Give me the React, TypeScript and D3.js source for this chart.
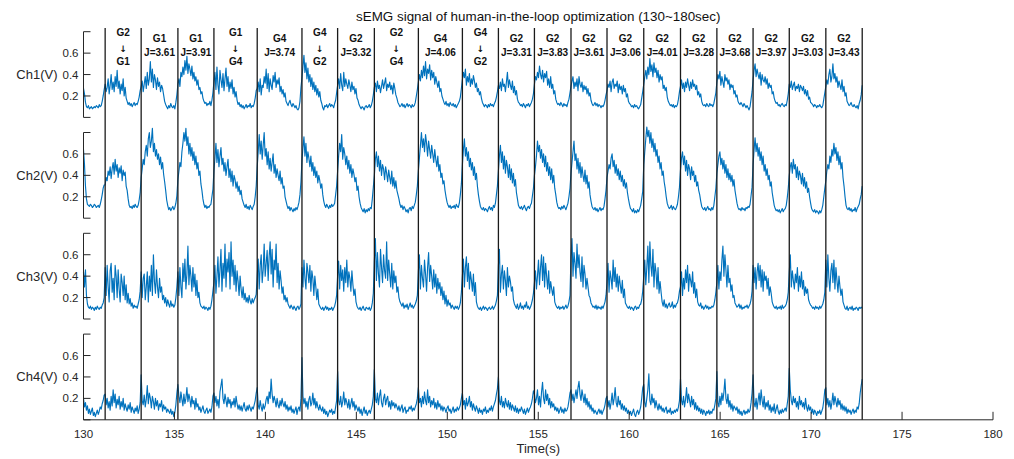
import React from "react";
import * as d3 from "d3";

const titleText = "sEMG signal of human-in-the-loop optimization (130~180sec)";
const xLabelText = "Time(s)";
const xTicks = [130, 135, 140, 145, 150, 155, 160, 165, 170, 175, 180];
const yTicks = [0, 0.2, 0.4, 0.6, 0.8];
const yTickLabels = ["", "0.2", "0.4", "0.6", ""];
const channelNames = ["Ch1(V)", "Ch2(V)", "Ch3(V)", "Ch4(V)"];

const signalStart = 130;
const boundaries = [131.19, 133.17, 135.19, 137.17, 139.55, 142.01, 143.97, 145.99, 148.41, 150.83, 152.81, 154.79, 156.8, 158.78, 160.8, 162.82, 164.82, 166.81, 168.8, 170.81, 172.81];
const labelTop = ["G2", "G1", "G1", "G1", "G4", "G4", "G2", "G2", "G4", "G4", "G2", "G2", "G2", "G2", "G2", "G2", "G2", "G2", "G2", "G2"];
const labelBottom = ["G1", "J=3.61", "J=3.91", "G4", "J=3.74", "G2", "J=3.32", "G4", "J=4.06", "G2", "J=3.31", "J=3.83", "J=3.61", "J=3.06", "J=4.01", "J=3.28", "J=3.68", "J=3.97", "J=3.03", "J=3.43"];

// values in hundredths of a volt; first list = before the first line, then one list per cycle, last = end value
const ch1 = [
  [27, 22, 14, 10, 9, 11, 8, 9, 10, 8, 9, 10, 9, 11, 10, 9, 12, 10, 11, 15, 20, 26],
  [31, 24, 28, 36, 22, 30, 40, 26, 33, 24, 38, 29, 44, 27, 34, 22, 31, 25, 36, 20, 28, 18, 15, 12, 14, 11, 13, 10, 12, 14, 11, 13, 12, 15, 19, 25],
  [29, 34, 24, 31, 38, 27, 42, 30, 36, 52, 33, 45, 28, 40, 35, 26, 37, 29, 33, 24, 30, 27, 21, 15, 12, 10, 8, 11, 9, 13, 10, 9, 11, 8, 14, 21],
  [31, 36, 29, 42, 38, 47, 40, 53, 44, 57, 41, 50, 45, 39, 48, 36, 42, 34, 38, 30, 35, 26, 28, 22, 24, 18, 15, 13, 14, 11, 13, 12, 15, 11, 16, 23],
  [33, 42, 26, 47, 30, 22, 44, 35, 28, 41, 25, 36, 46, 29, 38, 24, 33, 27, 35, 22, 28, 19, 24, 16, 12, 14, 10, 12, 9, 11, 8, 10, 12, 9, 11, 10, 13, 9, 11, 10, 13, 18, 25],
  [27, 33, 24, 36, 21, 30, 28, 38, 32, 45, 27, 41, 24, 36, 30, 26, 39, 33, 42, 28, 35, 31, 37, 24, 29, 22, 26, 19, 23, 15, 13, 11, 14, 16, 12, 10, 13, 11, 9, 11, 8, 7, 9, 15, 28],
  [37, 48, 58, 42, 51, 36, 46, 33, 40, 29, 37, 26, 33, 24, 30, 21, 27, 19, 24, 16, 13, 9, 7, 11, 10, 12, 9, 11, 13, 10, 12, 11, 9, 13, 16, 23],
  [30, 36, 27, 41, 30, 25, 42, 29, 36, 31, 27, 35, 30, 24, 33, 26, 29, 22, 27, 18, 16, 12, 10, 8, 10, 9, 7, 10, 11, 9, 10, 12, 9, 11, 15, 21],
  [28, 32, 24, 34, 27, 30, 23, 29, 35, 27, 32, 37, 25, 31, 28, 33, 26, 30, 22, 32, 27, 21, 18, 14, 12, 10, 11, 13, 10, 12, 9, 11, 13, 10, 12, 11, 9, 12, 10, 11, 14, 20, 26],
  [33, 40, 34, 44, 37, 48, 39, 52, 36, 45, 41, 49, 35, 44, 37, 42, 31, 38, 33, 28, 34, 24, 27, 20, 17, 14, 12, 15, 11, 13, 10, 14, 12, 11, 13, 10, 12, 9, 11, 13, 15, 19, 27],
  [35, 42, 37, 45, 30, 38, 33, 41, 29, 36, 31, 39, 34, 28, 32, 24, 27, 21, 24, 18, 14, 12, 10, 12, 11, 9, 12, 10, 13, 11, 12, 10, 13, 15, 19, 24],
  [30, 27, 33, 25, 36, 29, 31, 24, 33, 42, 28, 35, 30, 26, 34, 23, 29, 21, 25, 17, 14, 13, 11, 12, 10, 13, 11, 9, 12, 11, 13, 10, 12, 14, 17, 22],
  [31, 38, 35, 42, 37, 48, 40, 36, 44, 33, 41, 37, 43, 30, 36, 28, 38, 27, 31, 22, 25, 17, 14, 12, 13, 11, 14, 12, 10, 13, 11, 12, 10, 14, 17, 23],
  [29, 34, 38, 27, 33, 29, 36, 25, 38, 31, 28, 33, 24, 30, 26, 29, 22, 27, 20, 23, 16, 13, 11, 12, 14, 11, 13, 10, 12, 11, 9, 11, 10, 12, 16, 21],
  [25, 31, 28, 34, 24, 33, 36, 27, 31, 29, 34, 23, 31, 26, 29, 22, 30, 24, 27, 19, 22, 15, 13, 12, 10, 11, 9, 12, 10, 11, 9, 8, 10, 12, 18, 24],
  [31, 38, 44, 36, 47, 40, 55, 43, 49, 38, 51, 42, 46, 37, 44, 33, 40, 35, 38, 27, 30, 25, 28, 19, 15, 13, 11, 12, 10, 12, 9, 11, 10, 12, 17, 24],
  [29, 35, 27, 32, 24, 33, 28, 36, 30, 25, 33, 27, 35, 29, 31, 26, 30, 21, 24, 19, 22, 15, 12, 11, 12, 10, 13, 11, 10, 13, 11, 12, 10, 13, 18, 23],
  [33, 40, 36, 43, 30, 38, 33, 28, 40, 34, 37, 31, 35, 26, 31, 28, 30, 22, 25, 19, 21, 15, 13, 12, 14, 12, 10, 13, 11, 9, 11, 9, 7, 10, 17, 24],
  [35, 44, 50, 38, 45, 40, 36, 42, 30, 40, 35, 33, 38, 31, 36, 27, 32, 28, 30, 22, 24, 18, 15, 13, 14, 11, 12, 10, 12, 13, 11, 10, 12, 11, 16, 22],
  [31, 28, 34, 26, 30, 33, 25, 29, 27, 31, 24, 30, 28, 25, 29, 22, 26, 20, 25, 17, 19, 14, 13, 12, 10, 12, 11, 9, 11, 10, 12, 10, 9, 11, 17, 23],
  [29, 35, 31, 40, 45, 33, 38, 50, 36, 41, 33, 38, 28, 34, 30, 26, 35, 24, 29, 20, 23, 15, 13, 11, 12, 14, 11, 10, 12, 10, 9, 11, 8, 13, 16, 21],
  [30],
];

const ch2 = [
  [64, 50, 30, 18, 13, 12, 11, 13, 12, 10, 11, 13, 12, 10, 11, 12, 10, 13, 17, 22, 28, 31],
  [31, 38, 35, 44, 40, 48, 37, 46, 52, 41, 55, 44, 50, 38, 47, 42, 49, 35, 45, 40, 43, 30, 26, 18, 12, 10, 11, 9, 12, 10, 13, 11, 10, 12, 17, 24],
  [38, 46, 55, 50, 62, 68, 58, 74, 80, 66, 72, 84, 62, 70, 58, 64, 55, 60, 50, 57, 46, 52, 41, 34, 26, 17, 12, 8, 10, 7, 9, 11, 8, 10, 14, 21],
  [36, 44, 52, 48, 62, 70, 80, 72, 84, 68, 76, 60, 70, 58, 66, 54, 62, 50, 58, 46, 52, 40, 44, 32, 26, 18, 13, 10, 12, 9, 11, 10, 12, 13, 20, 27],
  [44, 56, 70, 52, 64, 48, 58, 66, 50, 56, 44, 52, 40, 48, 55, 38, 46, 34, 44, 30, 40, 36, 28, 34, 25, 30, 22, 26, 18, 15, 12, 10, 13, 9, 11, 8, 12, 10, 8, 11, 13, 20, 30],
  [48, 62, 78, 60, 72, 55, 68, 80, 58, 65, 50, 62, 46, 56, 44, 52, 60, 42, 50, 38, 46, 40, 35, 44, 32, 38, 28, 30, 20, 16, 12, 9, 11, 7, 10, 8, 6, 9, 7, 10, 8, 11, 15, 22, 34],
  [54, 66, 76, 58, 70, 52, 62, 56, 48, 58, 44, 52, 40, 48, 38, 44, 33, 40, 35, 28, 32, 22, 16, 12, 10, 13, 11, 9, 12, 10, 13, 11, 12, 14, 22, 30],
  [44, 58, 70, 62, 78, 55, 66, 60, 50, 58, 46, 54, 42, 50, 38, 46, 41, 34, 38, 26, 30, 20, 14, 10, 8, 6, 9, 5, 8, 6, 9, 7, 10, 9, 18, 29],
  [40, 55, 62, 48, 58, 44, 54, 40, 50, 46, 36, 48, 42, 34, 45, 38, 32, 44, 30, 38, 28, 35, 26, 22, 18, 13, 10, 12, 8, 11, 9, 6, 8, 5, 9, 10, 7, 11, 9, 12, 15, 22, 30],
  [44, 56, 68, 80, 66, 74, 62, 78, 70, 58, 72, 64, 56, 68, 60, 52, 64, 55, 48, 58, 44, 50, 38, 42, 32, 35, 26, 20, 15, 12, 10, 12, 9, 11, 10, 12, 9, 13, 11, 10, 14, 22, 32],
  [50, 64, 74, 58, 66, 54, 62, 48, 56, 45, 52, 40, 48, 36, 42, 30, 22, 16, 11, 9, 8, 10, 7, 9, 8, 6, 9, 11, 8, 10, 7, 12, 10, 14, 22, 30],
  [44, 58, 68, 52, 62, 46, 58, 42, 54, 48, 38, 50, 36, 46, 33, 42, 30, 36, 24, 18, 12, 10, 9, 11, 8, 10, 12, 9, 7, 10, 11, 9, 12, 14, 21, 28],
  [40, 48, 58, 72, 62, 68, 56, 64, 52, 60, 48, 58, 44, 52, 40, 48, 36, 46, 33, 40, 28, 22, 15, 11, 9, 10, 8, 11, 9, 12, 10, 8, 11, 14, 20, 28],
  [42, 52, 62, 72, 54, 60, 46, 56, 42, 52, 38, 48, 40, 34, 45, 32, 40, 28, 34, 22, 16, 11, 9, 8, 10, 7, 9, 6, 8, 10, 7, 9, 8, 11, 18, 26],
  [38, 44, 50, 46, 56, 60, 48, 54, 42, 50, 40, 46, 36, 44, 34, 40, 30, 36, 28, 33, 24, 18, 13, 9, 8, 6, 9, 5, 7, 5, 8, 6, 9, 12, 18, 25],
  [50, 62, 74, 85, 76, 82, 70, 80, 66, 74, 62, 70, 58, 64, 52, 58, 46, 52, 40, 44, 34, 28, 20, 14, 11, 9, 10, 12, 8, 11, 9, 8, 10, 13, 20, 29],
  [45, 56, 62, 50, 58, 44, 54, 40, 50, 46, 36, 48, 40, 44, 34, 40, 30, 34, 26, 22, 16, 11, 9, 8, 10, 7, 9, 11, 8, 9, 7, 10, 8, 12, 20, 28],
  [42, 50, 58, 62, 50, 56, 46, 54, 42, 50, 38, 46, 36, 42, 34, 40, 30, 36, 26, 20, 14, 10, 8, 9, 7, 10, 8, 9, 7, 10, 9, 11, 10, 13, 21, 29],
  [50, 64, 75, 62, 70, 58, 66, 54, 62, 50, 58, 44, 50, 40, 46, 36, 40, 30, 34, 24, 18, 12, 9, 7, 8, 6, 8, 5, 7, 9, 6, 8, 9, 12, 19, 28],
  [40, 48, 52, 42, 55, 46, 50, 38, 48, 36, 44, 40, 32, 42, 30, 38, 28, 34, 24, 28, 20, 14, 9, 7, 6, 8, 5, 7, 6, 4, 7, 5, 8, 12, 20, 28],
  [35, 44, 50, 46, 58, 52, 64, 58, 70, 60, 66, 54, 62, 50, 58, 46, 52, 38, 30, 20, 12, 9, 8, 10, 7, 9, 6, 8, 7, 10, 6, 9, 11, 13, 18, 22],
  [30],
];

const ch3 = [
  [44, 30, 46, 22, 14, 11, 10, 12, 9, 11, 10, 8, 11, 9, 12, 10, 9, 11, 10, 13, 15, 20],
  [48, 22, 50, 30, 16, 45, 52, 25, 38, 18, 50, 40, 20, 46, 28, 16, 42, 34, 22, 40, 18, 32, 15, 24, 14, 19, 12, 15, 10, 13, 11, 12, 10, 14, 18, 26],
  [44, 20, 38, 42, 18, 30, 44, 16, 40, 26, 50, 22, 60, 35, 24, 46, 30, 20, 38, 25, 30, 18, 22, 15, 20, 12, 18, 14, 11, 17, 12, 14, 11, 13, 20, 30],
  [44, 22, 48, 30, 20, 52, 35, 56, 28, 42, 68, 32, 50, 40, 26, 48, 30, 42, 22, 36, 20, 25, 15, 12, 11, 10, 12, 9, 11, 10, 8, 11, 9, 12, 18, 26],
  [34, 50, 24, 40, 58, 30, 46, 65, 26, 52, 38, 70, 30, 56, 44, 62, 28, 72, 40, 55, 32, 50, 26, 45, 35, 22, 40, 28, 20, 30, 18, 24, 16, 20, 15, 22, 17, 14, 19, 15, 18, 20, 23],
  [40, 56, 28, 50, 60, 34, 46, 70, 40, 52, 64, 36, 58, 72, 42, 65, 30, 55, 46, 70, 34, 52, 28, 45, 36, 24, 30, 18, 22, 16, 20, 14, 12, 10, 13, 11, 9, 12, 10, 8, 11, 12, 9, 11, 14],
  [48, 30, 55, 38, 28, 52, 44, 34, 50, 26, 45, 38, 22, 40, 30, 18, 28, 14, 12, 10, 9, 11, 8, 10, 12, 9, 11, 8, 10, 9, 11, 8, 10, 12, 16, 22],
  [40, 54, 28, 50, 36, 46, 26, 48, 34, 55, 30, 44, 38, 26, 45, 32, 22, 28, 16, 12, 10, 9, 11, 8, 10, 12, 9, 8, 11, 10, 9, 11, 8, 10, 15, 24],
  [54, 75, 36, 62, 42, 30, 65, 48, 34, 60, 45, 38, 72, 36, 55, 42, 30, 52, 28, 45, 34, 40, 25, 30, 20, 16, 14, 12, 15, 10, 13, 11, 14, 9, 12, 15, 11, 13, 10, 12, 14, 17, 22],
  [44, 60, 28, 50, 38, 30, 55, 42, 26, 48, 62, 35, 50, 40, 28, 46, 30, 42, 24, 38, 28, 34, 22, 30, 18, 26, 14, 22, 12, 18, 13, 15, 10, 13, 11, 9, 12, 10, 12, 9, 11, 15, 25],
  [40, 56, 30, 48, 58, 35, 52, 28, 44, 36, 26, 42, 22, 34, 16, 12, 10, 9, 11, 8, 10, 12, 9, 11, 10, 8, 10, 11, 9, 10, 12, 9, 11, 13, 17, 22],
  [50, 65, 25, 42, 50, 28, 45, 36, 22, 48, 30, 40, 35, 26, 30, 18, 14, 12, 10, 14, 9, 11, 15, 10, 12, 9, 13, 11, 16, 10, 12, 9, 11, 14, 18, 24],
  [34, 45, 28, 40, 55, 32, 48, 60, 36, 58, 30, 52, 40, 28, 45, 24, 35, 28, 22, 30, 16, 13, 11, 10, 12, 9, 11, 10, 12, 9, 11, 13, 10, 12, 16, 22],
  [58, 75, 40, 62, 52, 38, 70, 48, 60, 44, 35, 58, 30, 50, 42, 28, 38, 30, 22, 20, 15, 13, 11, 12, 10, 13, 9, 12, 10, 11, 9, 12, 10, 13, 16, 22],
  [34, 52, 25, 45, 38, 28, 55, 35, 48, 30, 42, 26, 40, 32, 24, 36, 20, 28, 15, 13, 11, 10, 12, 9, 11, 10, 8, 11, 12, 9, 11, 10, 13, 14, 18, 26],
  [40, 55, 32, 48, 68, 34, 72, 50, 40, 65, 30, 52, 44, 28, 48, 24, 35, 25, 16, 12, 18, 11, 14, 10, 13, 15, 11, 12, 16, 10, 13, 11, 14, 15, 19, 26],
  [30, 44, 22, 38, 28, 46, 34, 50, 26, 42, 36, 30, 44, 24, 34, 20, 28, 16, 13, 12, 15, 10, 12, 9, 11, 13, 10, 12, 9, 11, 10, 12, 11, 13, 18, 25],
  [34, 50, 28, 44, 36, 55, 68, 40, 60, 46, 30, 50, 34, 38, 26, 32, 20, 22, 15, 13, 11, 12, 14, 10, 13, 9, 11, 10, 12, 11, 13, 10, 12, 14, 18, 26],
  [50, 34, 48, 28, 44, 52, 36, 50, 30, 46, 26, 44, 36, 40, 28, 38, 22, 30, 24, 16, 13, 11, 10, 12, 9, 11, 10, 12, 9, 13, 10, 11, 12, 14, 18, 25],
  [44, 60, 30, 45, 36, 28, 42, 34, 48, 26, 40, 30, 44, 28, 36, 22, 30, 24, 28, 18, 15, 13, 12, 10, 11, 9, 12, 10, 11, 9, 12, 10, 12, 14, 18, 25],
  [55, 30, 60, 38, 26, 45, 52, 34, 55, 28, 48, 36, 25, 40, 30, 22, 28, 16, 13, 10, 9, 12, 8, 10, 11, 9, 12, 8, 10, 9, 11, 10, 8, 11, 10, 11],
  [10],
];

const ch4 = [
  [20, 12, 16, 9, 13, 6, 10, 5, 8, 11, 4, 7, 3, 6, 9, 5, 8, 12, 10, 15, 18, 23],
  [24, 14, 20, 11, 17, 9, 22, 13, 28, 16, 24, 11, 19, 14, 22, 10, 17, 12, 20, 9, 15, 11, 8, 14, 10, 16, 7, 12, 9, 6, 11, 8, 13, 6, 10, 16],
  [42, 18, 14, 23, 12, 19, 32, 15, 25, 20, 11, 22, 17, 10, 20, 13, 18, 9, 15, 12, 18, 8, 14, 10, 12, 7, 10, 8, 6, 10, 5, 8, 3, 7, 14, 25],
  [33, 22, 16, 26, 19, 13, 24, 15, 20, 30, 17, 24, 19, 12, 22, 15, 18, 10, 20, 12, 15, 9, 12, 7, 10, 13, 8, 6, 9, 11, 6, 8, 10, 7, 12, 22],
  [25, 16, 22, 13, 19, 11, 26, 32, 38, 20, 15, 24, 18, 12, 21, 15, 19, 11, 17, 14, 20, 12, 22, 15, 10, 14, 9, 13, 8, 12, 16, 10, 8, 13, 9, 14, 11, 8, 12, 10, 14, 18, 25],
  [30, 14, 10, 18, 12, 8, 15, 10, 13, 19, 22, 15, 26, 20, 38, 24, 16, 22, 18, 12, 20, 14, 11, 18, 13, 20, 15, 12, 17, 10, 14, 8, 12, 9, 13, 7, 10, 6, 9, 12, 5, 10, 12, 8, 20],
  [58, 22, 15, 20, 12, 17, 10, 19, 22, 13, 16, 25, 14, 20, 11, 17, 12, 9, 14, 10, 8, 12, 6, 10, 5, 8, 3, 6, 9, 7, 10, 5, 8, 6, 12, 18],
  [45, 18, 14, 22, 12, 17, 26, 14, 20, 16, 11, 19, 10, 15, 20, 12, 17, 9, 14, 11, 8, 12, 6, 10, 4, 8, 12, 6, 9, 4, 7, 9, 6, 10, 14, 22],
  [47, 20, 16, 25, 14, 22, 28, 16, 12, 20, 24, 14, 19, 22, 12, 17, 10, 18, 13, 16, 11, 15, 12, 9, 13, 8, 11, 14, 7, 10, 12, 6, 9, 8, 12, 10, 13, 8, 11, 9, 12, 15, 20],
  [30, 16, 20, 12, 22, 15, 26, 18, 14, 28, 16, 22, 12, 18, 14, 20, 11, 16, 10, 18, 12, 15, 9, 13, 8, 12, 10, 7, 11, 13, 8, 10, 6, 9, 12, 7, 10, 8, 12, 9, 11, 14, 20],
  [25, 14, 18, 10, 20, 13, 16, 22, 12, 17, 9, 15, 11, 8, 13, 10, 6, 11, 7, 9, 5, 10, 8, 12, 6, 9, 7, 11, 9, 13, 8, 12, 15, 18, 24, 29],
  [40, 18, 14, 22, 12, 17, 11, 20, 15, 12, 18, 10, 16, 9, 14, 11, 8, 13, 7, 11, 6, 10, 8, 12, 9, 6, 10, 5, 8, 11, 7, 10, 12, 15, 20, 27],
  [24, 16, 20, 28, 14, 22, 12, 26, 35, 20, 15, 28, 18, 24, 14, 20, 11, 17, 12, 15, 9, 12, 8, 11, 6, 9, 12, 7, 10, 6, 11, 8, 9, 12, 18, 25],
  [28, 18, 24, 16, 22, 28, 20, 30, 36, 24, 18, 28, 22, 16, 24, 14, 20, 12, 17, 10, 14, 8, 11, 6, 9, 7, 5, 8, 10, 6, 9, 5, 8, 10, 14, 20],
  [22, 12, 18, 10, 16, 25, 14, 20, 30, 16, 12, 22, 14, 18, 10, 15, 9, 13, 8, 11, 6, 9, 5, 8, 4, 7, 10, 5, 3, 7, 9, 5, 8, 12, 20, 30],
  [33, 16, 12, 20, 28, 43, 18, 14, 24, 16, 20, 11, 18, 13, 9, 15, 10, 13, 8, 11, 7, 10, 12, 6, 9, 7, 11, 5, 8, 6, 9, 7, 10, 8, 12, 18],
  [38, 18, 14, 22, 12, 19, 30, 16, 24, 18, 12, 22, 14, 19, 10, 16, 9, 13, 8, 11, 6, 10, 5, 9, 7, 4, 8, 6, 9, 5, 8, 6, 10, 9, 14, 20],
  [45, 16, 12, 22, 14, 25, 18, 26, 38, 20, 15, 24, 12, 18, 10, 15, 8, 13, 11, 9, 12, 6, 10, 5, 8, 4, 7, 9, 5, 8, 6, 10, 7, 9, 16, 25],
  [42, 16, 12, 20, 10, 18, 25, 14, 28, 18, 12, 22, 10, 16, 12, 18, 9, 14, 7, 12, 8, 15, 6, 10, 14, 8, 5, 9, 6, 10, 7, 9, 11, 8, 15, 22],
  [48, 28, 18, 14, 22, 16, 20, 12, 17, 10, 22, 14, 18, 12, 16, 10, 20, 12, 8, 14, 9, 12, 6, 10, 5, 9, 7, 4, 8, 6, 9, 5, 8, 11, 18, 28],
  [30, 14, 20, 12, 18, 10, 16, 25, 14, 22, 17, 12, 20, 14, 18, 10, 15, 9, 13, 8, 12, 6, 10, 7, 9, 5, 8, 10, 6, 9, 7, 12, 10, 15, 25, 32],
  [38],
];

const channels = [ch1, ch2, ch3, ch4];

function toPoints(segments: number[][]): [number, number][] {
  const edges = [signalStart, ...boundaries];
  const pts: [number, number][] = [];
  segments.forEach((seg, k) => {
    if (k >= edges.length - 1) {
      seg.forEach((v) => pts.push([edges[edges.length - 1], v / 100]));
      return;
    }
    const t0 = edges[k];
    const t1 = edges[k + 1];
    seg.forEach((v, j) => pts.push([t0 + ((t1 - t0) * j) / seg.length, v / 100]));
  });
  return pts;
}

export default function App() {
  const W = 1014;
  const H = 459;
  const left = 83.5;
  const right = 993;
  const panelTop0 = 31.7;
  const panelStep = 100.8;
  const panelH = 85.7;
  const lineTop = 28;
  const axisColor = "#262626";
  const font = "'Liberation Sans', Arial, Helvetica, sans-serif";

  const x = d3.scaleLinear().domain([130, 180]).range([left, right]);
  const bottomY = panelTop0 + 3 * panelStep + panelH;

  return (
    <svg
      width={W}
      height={H}
      style={{ position: "absolute", left: 0, top: 0, background: "#fff" }}
      fontFamily={font}
    >
      <rect x={0} y={0} width={W} height={H} fill="#fff" />
      <text x={(left + right) / 2} y={21} textAnchor="middle" fontSize={13.4} fill="#111">
        {titleText}
      </text>

      {channels.map((segs, i) => {
        const top = panelTop0 + i * panelStep;
        const bottom = top + panelH;
        const y = d3.scaleLinear().domain([0, 0.8]).range([bottom, top]);
        const line = d3
          .line<[number, number]>()
          .x((d) => x(d[0]))
          .y((d) => y(d[1]));
        const pts = toPoints(segs);
        return (
          <g key={i}>
            <path d={line(pts) || ""} fill="none" stroke="#0072BD" strokeWidth={1.15} strokeLinejoin="round" />
            <line x1={left} x2={left} y1={top} y2={bottom} stroke={axisColor} strokeWidth={1} />
            {yTicks.map((t, k) => (
              <g key={k}>
                <line x1={left} x2={left + 7} y1={y(t)} y2={y(t)} stroke={axisColor} strokeWidth={1} />
                {yTickLabels[k] && (
                  <text x={78.5} y={y(t) + 4} textAnchor="end" fontSize={11.5} fill={axisColor}>
                    {yTickLabels[k]}
                  </text>
                )}
              </g>
            ))}
            <text x={57.5} y={y(0.4) + 4.5} textAnchor="end" fontSize={13} fill={axisColor}>
              {channelNames[i]}
            </text>
          </g>
        );
      })}

      {boundaries.map((b, k) => (
        <line key={k} x1={x(b)} x2={x(b)} y1={lineTop} y2={bottomY} stroke="#1a1a1a" strokeWidth={1.3} />
      ))}

      {labelTop.map((lt, k) => {
        const cx = (x(boundaries[k]) + x(boundaries[k + 1])) / 2;
        const lb = labelBottom[k];
        const isSwitch = !lb.startsWith("J");
        return isSwitch ? (
          <g key={k} fontWeight="bold" fontSize={10} fill="#111" textAnchor="middle">
            <text x={cx} y={35.8}>{lt}</text>
            <text x={cx} y={51.5} fontSize={9} fontFamily="'DejaVu Sans', sans-serif">↓</text>
            <text x={cx} y={65.3}>{lb}</text>
          </g>
        ) : (
          <g key={k} fontWeight="bold" fontSize={10} fill="#111" textAnchor="middle">
            <text x={cx} y={41.8}>{lt}</text>
            <text x={cx} y={55.8}>{lb}</text>
          </g>
        );
      })}

      <line x1={left} x2={right} y1={bottomY} y2={bottomY} stroke={axisColor} strokeWidth={1} />
      {xTicks.map((t, k) => (
        <g key={k}>
          <line x1={x(t)} x2={x(t)} y1={bottomY} y2={bottomY - 8} stroke={axisColor} strokeWidth={1} />
          <text x={x(t)} y={438.3} textAnchor="middle" fontSize={11.5} fill={axisColor}>
            {t}
          </text>
        </g>
      ))}
      <text x={(left + right) / 2} y={452.5} textAnchor="middle" fontSize={13} fill={axisColor}>
        {xLabelText}
      </text>
    </svg>
  );
}
